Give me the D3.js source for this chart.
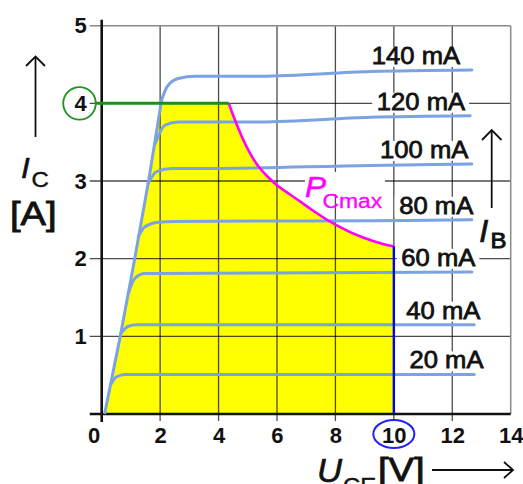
<!DOCTYPE html>
<html>
<head>
<meta charset="utf-8">
<script src="https://cdn.jsdelivr.net/npm/d3@7"></script>
<style>
  body { margin: 0; background: #fff; }
  svg { display: block; font-family: "Liberation Sans", Arial, sans-serif; }
</style>
</head>
<body>
<script>
// values (U_CE in V, I_C in A)
const xTicks = [0, 2, 4, 6, 8, 10, 12, 14];
const yTicks = [1, 2, 3, 4, 5];
const ibLabels = ["20 mA", "40 mA", "60 mA", "80 mA", "100 mA", "120 mA", "140 mA"];
const ib20  = [[0.31, 0.38], [0.51, 0.48], [0.8, 0.51], [6, 0.51], [12.75, 0.51]];
const ib40  = [[0.66, 1.04], [0.91, 1.13], [1.2, 1.15], [6, 1.15], [12.75, 1.15]];
const ib60  = [[0.91, 1.55], [1.14, 1.75], [1.48, 1.81], [1.83, 1.81], [7.5, 1.82], [12.67, 1.83]];
const ib80  = [[1.25, 2.28], [1.48, 2.41], [1.94, 2.47], [2.51, 2.48], [9.19, 2.49], [12.67, 2.50]];
const ib100 = [[1.59, 2.97], [1.88, 3.12], [2.4, 3.16], [3.2, 3.16], [9.19, 3.20], [12.67, 3.22]];
const ib120 = [[1.83, 3.48], [2.17, 3.72], [2.62, 3.76], [3.2, 3.76], [5.42, 3.76], [9.19, 3.82], [12.61, 3.84]];
const ib140 = [[2.05, 4.04], [2.23, 4.21], [2.62, 4.32], [3.2, 4.35], [5.42, 4.35], [9.19, 4.41], [12.67, 4.43]];
const ibCurves = [ib20, ib40, ib60, ib80, ib100, ib120, ib140];
const satLine = [[0.1, 0], [0.63, 0.99], [1.12, 1.98], [1.6, 2.99], [2.05, 4.04]];
const pcMax = [[4.35, 4.0], [4.5, 3.84], [4.8, 3.56], [5.09, 3.34], [5.38, 3.17], [5.72, 3.04],
  [6.0, 2.94], [6.4, 2.84], [6.86, 2.72], [7.26, 2.61], [7.99, 2.43], [8.96, 2.26], [9.7, 2.18], [10, 2.16]];
const icMax = 4;
const uceMax = 10;

// where the mA labels end (volts), layout only
const labelEnd = [13.07, 12.96, 12.79, 12.72, 12.55, 12.44, 12.27];

const width = 523, height = 484;
const x = d3.scaleLinear().domain([0, 14]).range([101.7, 510.7]);
const y = d3.scaleLinear().domain([0, 5]).range([414, 25.7]);

const svg = d3.select("body").append("svg")
  .attr("width", width)
  .attr("height", height);

const curveBlue = "#7ba3e3";
const line = d3.line().x(d => x(d[0])).y(d => y(d[1]));
const smooth = d3.line().x(d => x(d[0])).y(d => y(d[1])).curve(d3.curveMonotoneX);
const hyper = d3.line().x(d => x(d[0])).y(d => y(d[1])).curve(d3.curveBasis);

// yellow safe operating area
const last = satLine[satLine.length - 1], prev = satLine[satLine.length - 2];
const xAtMax = prev[0] + (last[0] - prev[0]) * (icMax - prev[1]) / (last[1] - prev[1]);
const leftEdge = satLine.filter(d => d[1] < icMax).concat([[xAtMax, icMax]]);
const areaPath = line(leftEdge) + hyper(pcMax).replace(/^M/, "L") +
  "L" + x(uceMax) + "," + y(0) + "Z";
svg.append("path").attr("d", areaPath).attr("fill", "#ffff00");

// grid
const grid = svg.append("g");
grid.selectAll(".gv")
  .data(xTicks.filter(d => d > 0 && d < 14))
  .enter().append("line")
  .attr("x1", d => x(d)).attr("x2", d => x(d))
  .attr("y1", y(5)).attr("y2", y(0) + 7)
  .attr("stroke", "#000").attr("stroke-opacity", 0.7).attr("stroke-width", 1.3);
grid.selectAll(".gh")
  .data(yTicks.filter(d => d < 5))
  .enter().append("line")
  .attr("x1", x(0) - 12).attr("x2", x(14))
  .attr("y1", d => y(d)).attr("y2", d => y(d))
  .attr("stroke", "#000").attr("stroke-opacity", 0.7).attr("stroke-width", 1.3);
// top and right frame
grid.append("line")
  .attr("x1", x(0) - 12).attr("x2", x(14)).attr("y1", y(5)).attr("y2", y(5))
  .attr("stroke", "#8a8a8a").attr("stroke-width", 1.5);
grid.append("line")
  .attr("x1", x(14)).attr("x2", x(14)).attr("y1", y(5)).attr("y2", y(0))
  .attr("stroke", "#8a8a8a").attr("stroke-width", 1.5);

// axes
svg.append("line")
  .attr("x1", x(0)).attr("x2", x(0)).attr("y1", y(5) - 6).attr("y2", y(0) + 8)
  .attr("stroke", "#111").attr("stroke-width", 2.6);
svg.append("line")
  .attr("x1", x(0) - 12).attr("x2", x(14)).attr("y1", y(0)).attr("y2", y(0))
  .attr("stroke", "#111").attr("stroke-width", 2.6);

const xAxis = svg.append("g")
  .attr("transform", "translate(0," + y(0) + ")")
  .call(d3.axisBottom(x).tickValues(xTicks).tickSize(0).tickPadding(13).tickFormat(d3.format("d")));
const yAxis = svg.append("g")
  .attr("transform", "translate(" + x(0) + ",0)")
  .call(d3.axisLeft(y).tickValues(yTicks).tickSize(0).tickPadding(15).tickFormat(d3.format("d")));
[xAxis, yAxis].forEach(a => {
  a.select(".domain").remove();
  a.selectAll("text")
    .attr("font-family", "'Liberation Sans', Arial, sans-serif")
    .attr("font-size", 22).attr("font-weight", "bold").attr("fill", "#111");
});
xAxis.selectAll(".tick").filter(d => d === 0).select("text").attr("dx", -8);

// stretched text helper (reference text is a bit wide)
function stretched(g, px, py, str, size, opt) {
  opt = opt || {};
  const fill = opt.fill || "#111";
  return g.append("text")
    .attr("transform", "translate(" + px + "," + py + ") scale(" + (opt.sx || 1.09) + ",1)")
    .attr("text-anchor", opt.anchor || "start")
    .attr("font-size", size)
    .attr("font-style", opt.italic ? "italic" : null)
    .attr("fill", fill)
    .attr("stroke", fill).attr("stroke-width", opt.sw || 0.6)
    .text(str);
}

// base-current labels with white boxes
const labels = svg.append("g");
ibLabels.forEach((lab, i) => {
  const c = ibCurves[i];
  const endY = c[c.length - 1][1];
  const g = labels.append("g");
  const t = stretched(g, x(labelEnd[i]), y(endY) - 6, lab, 23.5, { anchor: "end", sw: 0.75 });
  const b = t.node().getBBox();
  const w = b.width * 1.09;
  g.insert("rect", "text")
    .attr("x", x(labelEnd[i]) - w - 4).attr("y", y(endY) - 6 - 17)
    .attr("width", w + 8).attr("height", 20)
    .attr("fill", "#fff");
});

// P_Cmax label background
const pLab = svg.append("g");
pLab.append("rect").attr("x", 305).attr("y", 172).attr("width", 80).attr("height", 22).attr("fill", "#fff");
stretched(pLab, 305, 197, "P", 30, { italic: true, fill: "#ff00ff", sx: 1.05, sw: 0.5 });
stretched(pLab, 322.5, 208, "Cmax", 21, { fill: "#ff00ff", sw: 0.3 });

// characteristic curves
svg.append("path").attr("d", line(satLine))
  .attr("fill", "none").attr("stroke", curveBlue).attr("stroke-width", 3);
svg.selectAll(".ib")
  .data(ibCurves)
  .enter().append("path")
  .attr("d", d => smooth(d))
  .attr("fill", "none").attr("stroke", curveBlue).attr("stroke-width", 3)
  .attr("stroke-linecap", "round");

// limits
svg.append("path").attr("d", hyper(pcMax))
  .attr("fill", "none").attr("stroke", "#ff00ff").attr("stroke-width", 2.6);
svg.append("line")
  .attr("x1", x(uceMax)).attr("x2", x(uceMax))
  .attr("y1", y(0)).attr("y2", y(pcMax[pcMax.length - 1][1]))
  .attr("stroke", "#0000ff").attr("stroke-width", 2.4);
const circR = 16.3, circX = 79.5;
svg.append("line")
  .attr("x1", circX + circR).attr("x2", x(pcMax[0][0]))
  .attr("y1", y(icMax)).attr("y2", y(icMax))
  .attr("stroke", "#169316").attr("stroke-width", 3);
svg.append("circle")
  .attr("cx", circX).attr("cy", y(icMax)).attr("r", circR)
  .attr("fill", "none").attr("stroke", "#1f951f").attr("stroke-width", 1.8);
svg.append("ellipse")
  .attr("cx", x(uceMax)).attr("cy", 434).attr("rx", 20.5).attr("ry", 14)
  .attr("fill", "none").attr("stroke", "#1f1fff").attr("stroke-width", 2);

// axis titles
const titles = svg.append("g");
function arrow(pts) {
  titles.append("polyline").attr("points", pts.map(p => p.join(",")).join(" "))
    .attr("fill", "none").attr("stroke", "#111").attr("stroke-width", 1.8);
}
// I_C
arrow([[35.5, 137], [35.5, 57]]);
arrow([[26, 66], [35.5, 56.5], [45, 66]]);
stretched(titles, 21, 178, "I", 30, { italic: true, sx: 1.05 });
stretched(titles, 31.5, 187, "C", 22, { sw: 0.4 });
stretched(titles, 10, 225, "[A]", 34, { sx: 1.12, sw: 0.9 });
// I_B
arrow([[491.7, 208], [491.7, 130.5]]);
arrow([[482, 140], [491.7, 130], [501.5, 140]]);
stretched(titles, 479, 242, "I", 32, { italic: true, sx: 1.05 });
stretched(titles, 490.5, 248, "B", 22, { sw: 0.9 });
// U_CE
stretched(titles, 317, 482, "U", 33, { italic: true, sx: 1.05 });
stretched(titles, 343, 493, "CE", 22, { sw: 0.4 });
stretched(titles, 378, 481, "[V]", 34, { sx: 1.12, sw: 0.9 });
arrow([[432, 470], [513, 470]]);
arrow([[504, 462], [513, 470], [504, 478]]);
</script>
</body>
</html>
